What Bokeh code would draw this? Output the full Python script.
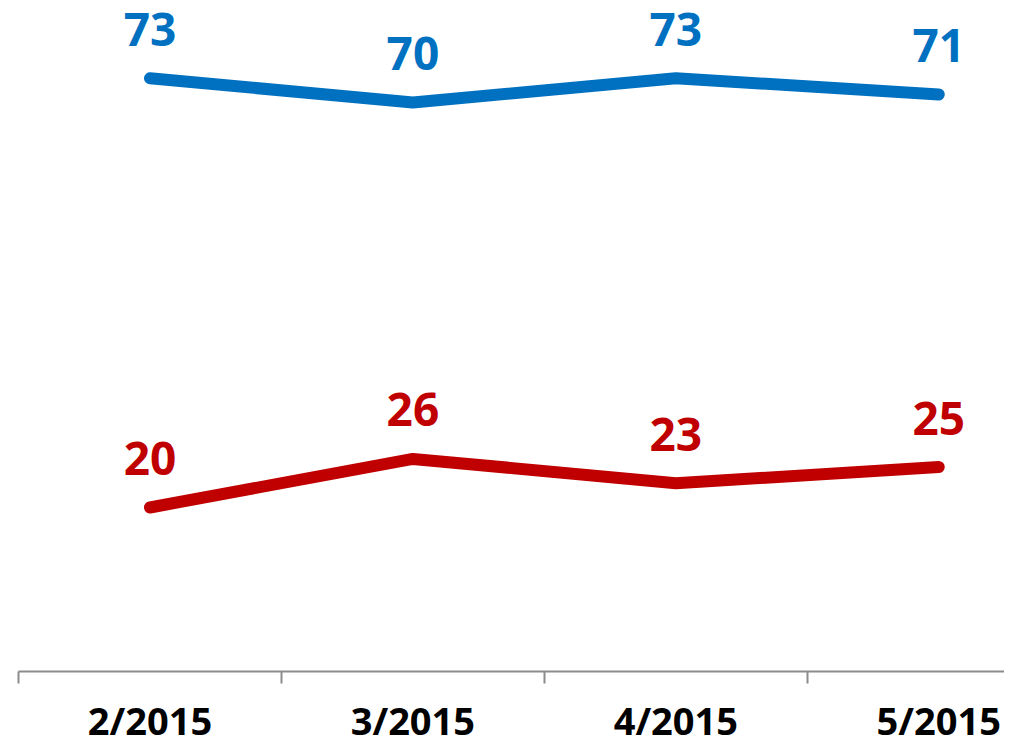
from bokeh.plotting import figure
from bokeh.models import FixedTicker, Range1d, ColumnDataSource
from bokeh.core.properties import value
from bokeh.embed import file_html
from bokeh.resources import INLINE

categories = ["2/2015", "3/2015", "4/2015", "5/2015"]
blue_values = [73, 70, 73, 71]
red_values = [20, 26, 23, 25]

BLUE = "#0070C0"
RED = "#C00000"
FONT = "Open Sans"

xs = list(range(len(categories)))

p = figure(width=1004, height=748, output_backend="svg", toolbar_location=None,
           x_range=Range1d(-0.5, 3.25), y_range=Range1d(-0.25, 82.6),
           min_border_left=18, min_border_right=0, min_border_top=0, min_border_bottom=76)
p.outline_line_color = None
p.grid.visible = False
p.yaxis.visible = False
p.background_fill_color = "white"

for vals, col in ((blue_values, BLUE), (red_values, RED)):
    src = ColumnDataSource(dict(x=xs, y=vals, t=[str(v) for v in vals]))
    p.line("x", "y", source=src, line_color=col, line_width=12, line_cap="round", line_join="round")
    p.text("x", "y", text="t", source=src, text_color=col, text_font=value(FONT),
           text_font_style="bold", text_font_size="46px", text_align="center",
           text_baseline="middle", y_offset=-49)

ax = p.xaxis[0]
ax.ticker = FixedTicker(ticks=xs, minor_ticks=[-0.5, 0.5, 1.5, 2.5])
ax.major_label_overrides = {i: c for i, c in enumerate(categories)}
ax.major_tick_out = 0
ax.major_tick_in = 0
ax.minor_tick_out = 12
ax.minor_tick_in = 0
ax.minor_tick_line_color = "#8C8C8C"
ax.minor_tick_line_width = 2
ax.axis_line_color = "#8C8C8C"
ax.axis_line_width = 2
ax.major_label_text_font = FONT
ax.major_label_text_font_style = "bold"
ax.major_label_text_font_size = "38px"
ax.major_label_text_color = "black"
ax.major_label_standoff = 10

open("out.html", "w").write(file_html(p, INLINE))
